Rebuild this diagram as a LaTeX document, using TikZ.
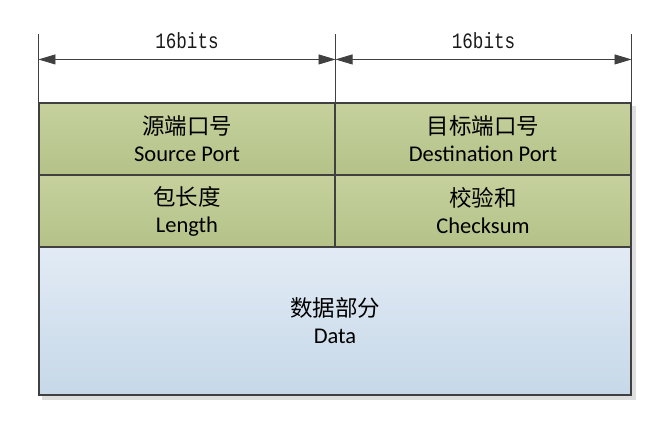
\documentclass[tikz,border=0pt]{standalone}
\usepackage{fontspec}
\setmainfont{Carlito}
\newfontfamily\cjkfont{Noto Sans CJK SC}
\newfontfamily\bitsfont[FakeStretch=0.8]{Liberation Mono}
\usetikzlibrary{positioning, arrows.meta, backgrounds}
\definecolor{cvert}{RGB}{198,209,157}
\definecolor{cvertbas}{RGB}{180,194,136}
\definecolor{cbleu}{RGB}{226,235,245}
\definecolor{cbleubas}{RGB}{198,216,232}
\definecolor{ctrait}{gray}{0.25}
\definecolor{combre}{gray}{0.87}

\begin{document}
\begin{tikzpicture}[x=1pt, y=-1pt,
  champ/.style={draw=ctrait, line width=1.1pt, minimum width=296pt,
    minimum height=72pt, inner sep=0pt, align=center, text=black,
    font=\fontsize{22.5}{27}\selectfont},
  vert/.style={top color=cvert, bottom color=cvertbas},
  bleu/.style={top color=cbleu, bottom color=cbleubas},
  repere/.style={draw=ctrait, line width=0.8pt},
  cote/.style={draw=ctrait, line width=0.8pt,
    {Triangle[length=17pt, width=10pt]}-{Triangle[length=17pt, width=10pt]}},
  bits/.style={font=\bitsfont\fontsize{22}{24}\selectfont, text=black!90}]
  \useasboundingbox (0,0) rectangle (672,422);

  \node[champ, vert] (src) at (187,139) {{\cjkfont 源端口号}\\Source Port};
  \node[champ, vert] (dst) at (483,139) {{\cjkfont 目标端口号}\\Destination Port};
  \node[champ, vert] (len) at (187,211) {{\cjkfont 包长度}\\Length};
  \node[champ, vert] (chk) at (483,211) {{\cjkfont 校验和}\\Checksum};
  \node[champ, bleu, minimum width=592pt, minimum height=148pt] (data)
       at (335,321) {{\cjkfont 数据部分}\\Data};

  % ombre portee
  \begin{scope}[on background layer]
    \fill[combre] ([shift={(4,4)}]src.north west)
      rectangle ([shift={(4,4)}]data.south east);
  \end{scope}

  \coordinate[above=68pt of src.north west] (hautg);
  \coordinate[above=68pt of src.north east] (hautm);
  \coordinate[above=68pt of dst.north east] (hautd);
  \draw[repere] (src.north west) -- (hautg);
  \draw[repere] (src.north east) -- (hautm);
  \draw[repere] (dst.north east) -- (hautd);

  \coordinate[above=43pt of src.north west] (flg);
  \coordinate[above=43pt of src.north east] (flm);
  \coordinate[above=43pt of dst.north east] (fld);
  \draw[cote] (flg) -- node[bits, above=7pt] (lb1) {16bits} (flm);
  \draw[cote] (flm) -- node[bits, above=7pt] (lb2) {16bits} (fld);
\end{tikzpicture}
\end{document}
